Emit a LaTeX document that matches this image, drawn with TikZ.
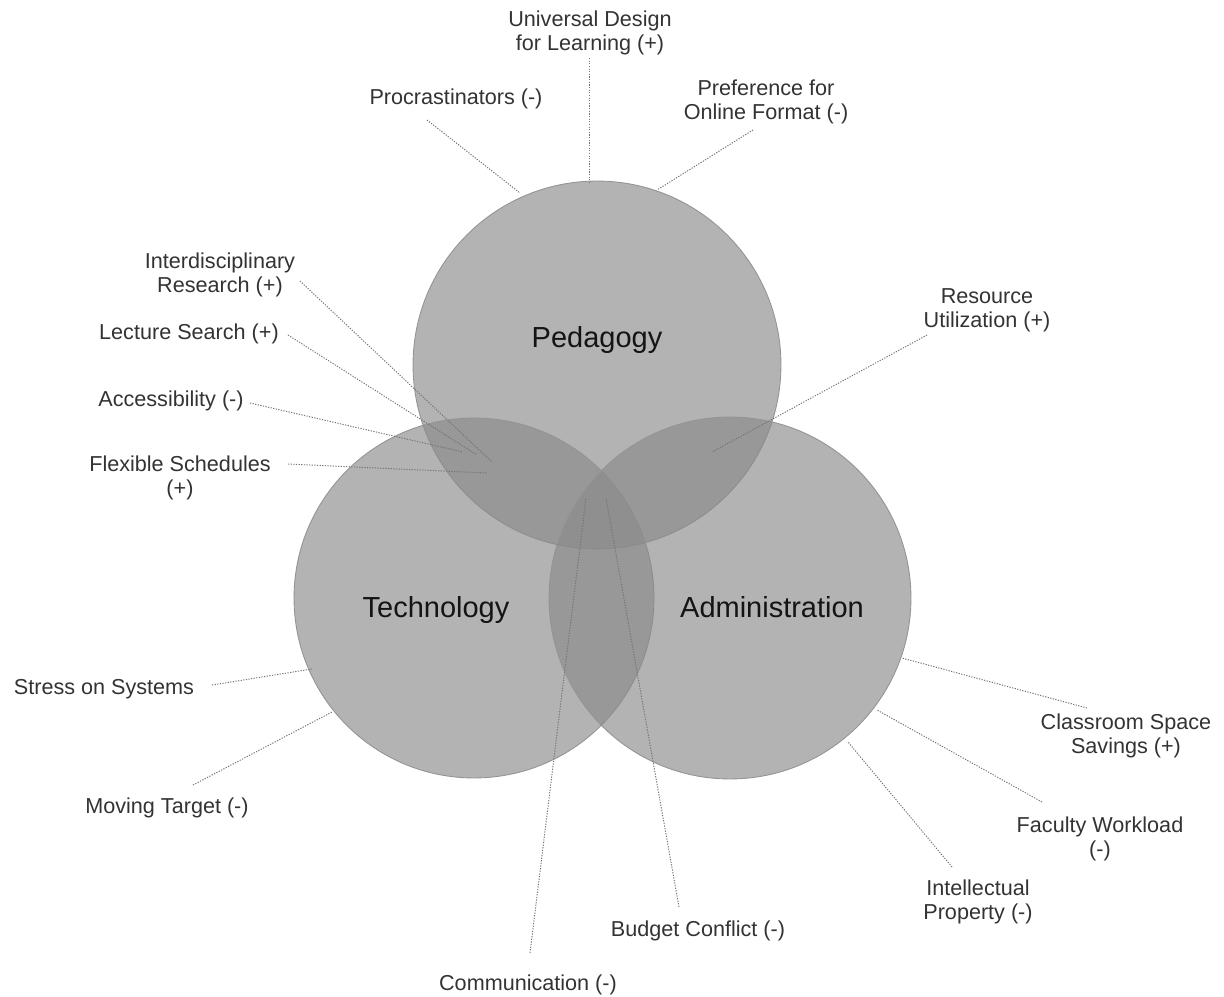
\documentclass[tikz,border=0pt]{standalone}
\usepackage{fontspec}
\setmainfont{Liberation Sans}
\usepackage{tikz}
\tikzstyle{area}=[circle,draw=black!42,line width=0.5pt,fill=black!46,fill opacity=0.65,inner sep=0pt,outer sep=0pt]
\tikzstyle{factor}=[align=center,text=black!80,font=\fontsize{12.3}{13.8}\selectfont,inner sep=1pt]
\tikzstyle{title}=[anchor=base,text=black!92,font=\fontsize{16.5}{19}\selectfont]
\tikzstyle{link}=[black!55,line width=0.55pt,dash pattern=on 0.7pt off 0.8pt]

\begin{document}
\begin{tikzpicture}[x=0.02cm,y=-0.02cm]
\useasboundingbox (0,0) rectangle (1224,997);

% the three areas
\node[area,minimum size=7.36cm] (ped) at (597,365) {};
\node[area,minimum size=7.2cm] (tech) at (474,598) {};
\node[area,minimum size=7.24cm] (admin) at (730,598) {};

\node[title] (pedT) at (597,347) {Pedagogy};
\node[title] (techT) at (436,617) {Technology};
\node[title] (adminT) at (772,617) {Administration};

% factors
\node[factor] (udl) at (590,33) {Universal Design\\for Learning (+)};
\node[factor] (proc) at (456,99) {Procrastinators (-)};
\node[factor] (pref) at (766,102) {Preference for\\Online Format (-)};
\node[factor] (inter) at (220,275) {Interdisciplinary\\Research (+)};
\node[factor] (lect) at (189,334) {Lecture Search (+)};
\node[factor] (acc) at (171,401) {Accessibility (-)};
\node[factor] (flex) at (180,478) {Flexible Schedules\\(+)};
\node[factor] (res) at (987,310) {Resource\\Utilization (+)};
\node[factor] (stress) at (104,689) {Stress on Systems};
\node[factor] (moving) at (167,808) {Moving Target (-)};
\node[factor] (class) at (1126,736) {Classroom Space\\Savings (+)};
\node[factor] (fac) at (1100,839) {Faculty Workload\\(-)};
\node[factor] (intel) at (978,902) {Intellectual\\Property (-)};
\node[factor] (budget) at (698,931) {Budget Conflict (-)};
\node[factor] (comm) at (528,985) {Communication (-)};

% leader ends
\coordinate (udl-a) at (589,58);     \coordinate (udl-b) at (589,182);
\coordinate (proc-a) at (427,120);   \coordinate (proc-b) at (520,193);
\coordinate (pref-a) at (753,130);   \coordinate (pref-b) at (657,190);
\coordinate (inter-a) at (300,281);  \coordinate (inter-b) at (492,462);
\coordinate (lect-a) at (288,335);   \coordinate (lect-b) at (477,455);
\coordinate (acc-a) at (250,403);    \coordinate (acc-b) at (463,452);
\coordinate (flex-a) at (288,464);   \coordinate (flex-b) at (487,473);
\coordinate (res-a) at (927,335);    \coordinate (res-b) at (712,452);
\coordinate (stress-a) at (212,685); \coordinate (stress-b) at (312,669);
\coordinate (moving-a) at (193,785); \coordinate (moving-b) at (332,712);
\coordinate (class-a) at (1087,708); \coordinate (class-b) at (902,658);
\coordinate (fac-a) at (1042,802);   \coordinate (fac-b) at (877,710);
\coordinate (intel-a) at (952,867);  \coordinate (intel-b) at (848,742);
\coordinate (budget-a) at (679,907); \coordinate (budget-b) at (606,498);
\coordinate (comm-a) at (530,953);   \coordinate (comm-b) at (586,498);

\foreach \f in {udl,proc,pref,inter,lect,acc,flex,res,stress,moving,class,fac,intel,budget,comm}{
    \draw[link] (\f-a) -- (\f-b);
}
\end{tikzpicture}
\end{document}
